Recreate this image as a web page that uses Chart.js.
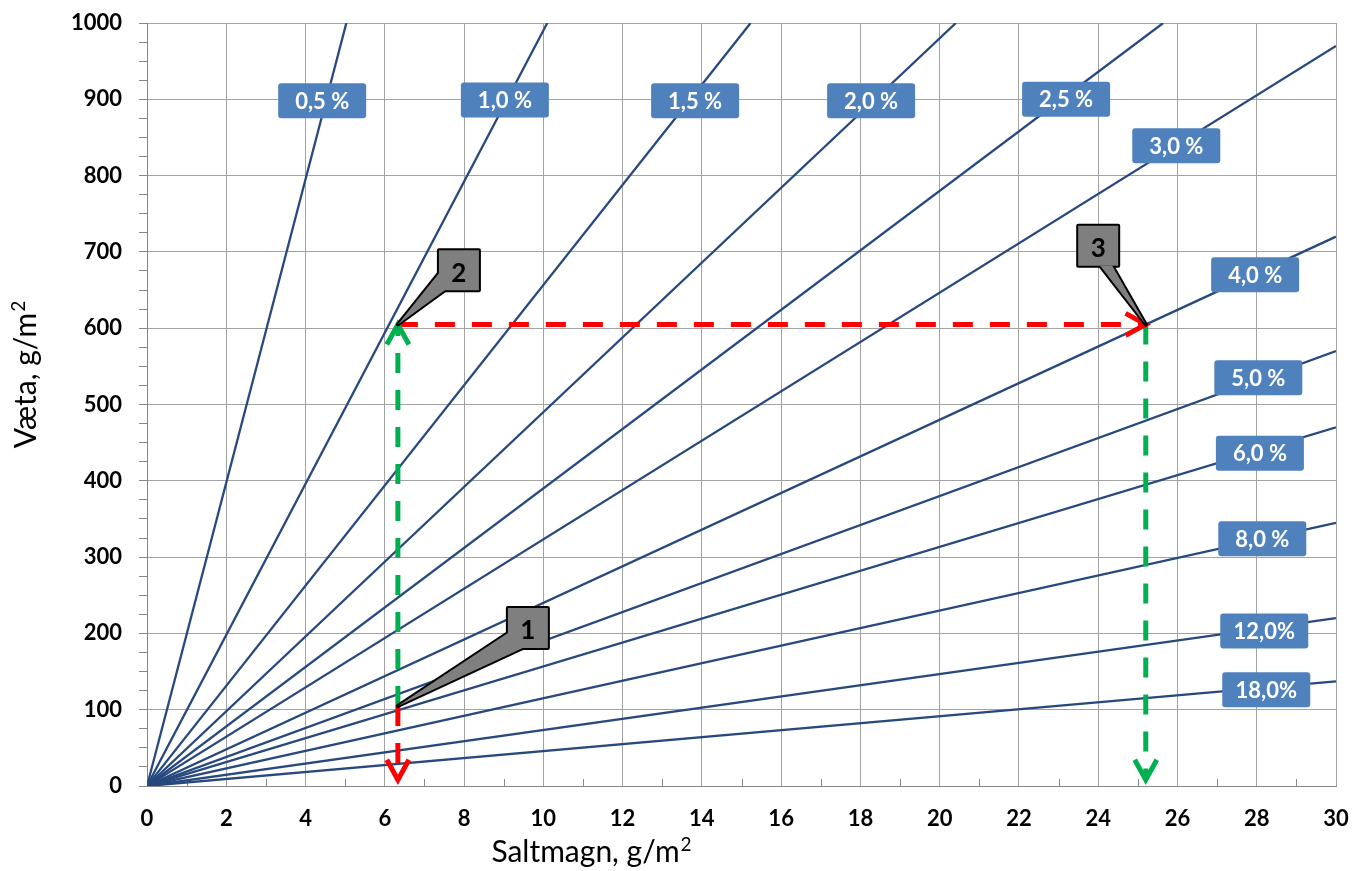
<!DOCTYPE html>
<html>
<head>
<meta charset="utf-8">
<script src="https://cdn.jsdelivr.net/npm/chart.js@4.4.0/dist/chart.umd.min.js"></script>
<style>
  html, body { margin: 0; padding: 0; background: #fff; }
  canvas { display: block; }
</style>
</head>
<body>
<canvas id="salt-chart" width="1353" height="871"></canvas>
<script>
// salt concentration lines, from origin to where they leave the plot
const concLabels = ['0,5 %', '1,0 %', '1,5 %', '2,0 %', '2,5 %', '3,0 %', '4,0 %', '5,0 %', '6,0 %', '8,0 %', '12,0%', '18,0%'];
const lineEndX = [5.03, 10.1, 15.23, 20.41, 25.64, 30, 30, 30, 30, 30, 30, 30];
const lineEndY = [1000, 1000, 1000, 1000, 1000, 970, 720, 570, 470, 345, 220, 137];

// where the label boxes sit (data units)
const labelX = [4.42, 9.03, 13.83, 18.27, 23.19, 25.97, 27.96, 28.04, 28.08, 28.14, 28.19, 28.24];
const labelY = [898, 899, 898, 898, 900, 839, 670, 535, 436, 324, 203, 126];

// worked example: points 1, 2, 3
const stepNames = ['1', '2', '3'];
const stepX = [6.33, 6.33, 25.2];
const stepY = [105, 605, 605];
const calloutX = [9.61, 7.87, 24.0];
const calloutY = [207, 676, 708];
const arrowTipY = 8;

const xTicks = { min: 0, max: 30, step: 1 };
const yTicks = { min: 0, max: 1000, step: 25 };

const FONT = 'Lato, "Open Sans", sans-serif';
const LINE_COLOR = '#27497d';
const GRID_COLOR = '#a3a3a3';
const AXIS_COLOR = '#868686';

const datasets = [];

// arrows (drawn on top)
const arrows = [
  { color: '#ff0000', from: [stepX[0], stepY[0]], to: [stepX[0], arrowTipY] },
  { color: '#00b050', from: [stepX[0], stepY[0]], to: [stepX[1], stepY[1]] },
  { color: '#ff0000', from: [stepX[1], stepY[1]], to: [stepX[2], stepY[2]] },
  { color: '#00b050', from: [stepX[2], stepY[2]], to: [stepX[2], arrowTipY] }
];
arrows.forEach(a => {
  datasets.push({
    data: [{ x: a.from[0], y: a.from[1] }, { x: a.to[0], y: a.to[1] }],
    showLine: true,
    borderColor: a.color,
    borderWidth: 5,
    borderDash: [20, 17],
    borderCapStyle: 'butt',
    pointRadius: 0,
    isArrow: true,
    order: 0
  });
});

concLabels.forEach((lab, i) => {
  datasets.push({
    label: lab,
    data: [{ x: 0, y: 0 }, { x: lineEndX[i], y: lineEndY[i] }],
    showLine: true,
    borderColor: LINE_COLOR,
    borderWidth: 2.3,
    pointRadius: 0,
    order: 1
  });
});

const decorPlugin = {
  id: 'decor',
  beforeDatasetsDraw(chart) {
    const { ctx, scales: { x, y } } = chart;
    // small inside ticks on the x axis at odd values
    ctx.save();
    ctx.strokeStyle = AXIS_COLOR;
    ctx.lineWidth = 1;
    for (let v = 1; v < 30; v += 2) {
      const px = Math.round(x.getPixelForValue(v)) + 0.5;
      ctx.beginPath();
      ctx.moveTo(px, y.bottom);
      ctx.lineTo(px, y.bottom - 7);
      ctx.stroke();
    }
    ctx.restore();
  },
  afterDatasetsDraw(chart) {
    const { ctx, scales: { x, y } } = chart;
    ctx.save();

    // arrow heads
    chart.data.datasets.forEach(ds => {
      if (!ds.isArrow) return;
      const p0 = ds.data[0], p1 = ds.data[1];
      const x0 = x.getPixelForValue(p0.x), y0 = y.getPixelForValue(p0.y);
      const x1 = x.getPixelForValue(p1.x), y1 = y.getPixelForValue(p1.y);
      const ang = Math.atan2(y1 - y0, x1 - x0);
      const arm = 23, spread = 0.5;
      ctx.strokeStyle = ds.borderColor;
      ctx.lineWidth = 5;
      ctx.lineCap = 'butt';
      ctx.lineJoin = 'miter';
      ctx.setLineDash([]);
      ctx.beginPath();
      ctx.moveTo(x1 - arm * Math.cos(ang - spread), y1 - arm * Math.sin(ang - spread));
      ctx.lineTo(x1, y1);
      ctx.lineTo(x1 - arm * Math.cos(ang + spread), y1 - arm * Math.sin(ang + spread));
      ctx.stroke();
    });

    // blue label boxes
    ctx.font = 'bold 22px ' + FONT;
    ctx.textAlign = 'center';
    ctx.textBaseline = 'middle';
    concLabels.forEach((lab, i) => {
      const cx = x.getPixelForValue(labelX[i]);
      const cy = y.getPixelForValue(labelY[i]);
      const w = 88, h = 35;
      ctx.fillStyle = '#4f81bd';
      ctx.beginPath();
      ctx.roundRect(cx - w / 2, cy - h / 2, w, h, 3);
      ctx.fill();
      ctx.fillStyle = '#ffffff';
      ctx.fillText(lab, cx, cy + 1);
    });

    // grey callouts with pointer wedges
    const wedges = [
      [[-20, 5], [-5, 20]],
      [[-20, 3], [-14, 20]],
      [[2, 20], [14, 20]]
    ];
    stepNames.forEach((name, i) => {
      const cx = x.getPixelForValue(calloutX[i]);
      const cy = y.getPixelForValue(calloutY[i]);
      const tx = x.getPixelForValue(stepX[i]);
      const ty = y.getPixelForValue(stepY[i]);
      const w = wedges[i];
      const tri = () => {
        ctx.beginPath();
        ctx.moveTo(cx + w[0][0], cy + w[0][1]);
        ctx.lineTo(tx, ty);
        ctx.lineTo(cx + w[1][0], cy + w[1][1]);
        ctx.closePath();
      };
      const box = () => {
        ctx.beginPath();
        ctx.rect(cx - 20, cy - 20, 40, 40);
      };
      ctx.strokeStyle = '#000';
      ctx.lineWidth = 4;
      ctx.lineJoin = 'round';
      tri(); ctx.stroke();
      box(); ctx.stroke();
      ctx.fillStyle = '#7f7f7f';
      tri(); ctx.fill();
      box(); ctx.fill();
      ctx.fillStyle = '#000';
      ctx.font = 'bold 26px ' + FONT;
      ctx.fillText(name, cx, cy + 3);
    });
    ctx.restore();
  },
  afterDraw(chart) {
    const { ctx } = chart;
    ctx.save();
    ctx.fillStyle = '#000';
    ctx.textBaseline = 'alphabetic';
    ctx.textAlign = 'left';
    // x axis title
    const xMain = 30, xSup = 19;
    const xt = 'Saltmagn, g/m';
    ctx.font = xMain + 'px ' + FONT;
    const wMain = ctx.measureText(xt).width;
    ctx.font = xSup + 'px ' + FONT;
    const wSup = ctx.measureText('2').width;
    let sx = 591 - (wMain + wSup) / 2;
    ctx.font = xMain + 'px ' + FONT;
    ctx.fillText(xt, sx, 862);
    ctx.font = xSup + 'px ' + FONT;
    ctx.fillText('2', sx + wMain + 1, 851);
    // y axis title
    const yMain = 30, ySup = 19;
    ctx.translate(36, 375);
    ctx.rotate(-Math.PI / 2);
    const yt = 'Væta, g/m';
    ctx.font = yMain + 'px ' + FONT;
    const wy = ctx.measureText(yt).width;
    ctx.font = ySup + 'px ' + FONT;
    const wys = ctx.measureText('2').width;
    sx = -(wy + wys) / 2;
    ctx.font = yMain + 'px ' + FONT;
    ctx.fillText(yt, sx, 0);
    ctx.font = ySup + 'px ' + FONT;
    ctx.fillText('2', sx + wy + 1, -11);
    ctx.restore();
  }
};

new Chart(document.getElementById('salt-chart'), {
  type: 'scatter',
  data: { datasets },
  options: {
    responsive: false,
    animation: false,
    devicePixelRatio: 1,
    layout: { padding: { top: 23, right: 17, left: 0, bottom: 0 } },
    plugins: { legend: { display: false }, tooltip: { enabled: false } },
    scales: {
      x: {
        type: 'linear',
        min: xTicks.min,
        max: xTicks.max,
        afterFit(scale) {
          scale.height = 85;
          scale.paddingLeft = 0;
          scale.paddingRight = 0;
        },
        ticks: {
          stepSize: xTicks.step,
          autoSkip: false,
          maxRotation: 0,
          padding: 20,
          color: '#000',
          font: { family: FONT, size: 22, weight: 'bold' },
          callback: v => (v % 2 === 0 ? v : '')
        },
        grid: {
          color: c => (c.tick && c.tick.value % 2 === 0 ? GRID_COLOR : 'transparent'),
          lineWidth: 1,
          drawTicks: false
        },
        border: { color: AXIS_COLOR, width: 1 }
      },
      y: {
        type: 'linear',
        min: yTicks.min,
        max: yTicks.max,
        afterFit(scale) {
          scale.width = 147;
          scale.paddingTop = 0;
          scale.paddingBottom = 0;
        },
        ticks: {
          stepSize: yTicks.step,
          maxTicksLimit: 100,
          autoSkip: false,
          padding: 17,
          color: '#000',
          font: { family: FONT, size: 22, weight: 'bold' },
          callback: v => (v % 100 === 0 ? v : '')
        },
        grid: {
          color: c => (c.tick && c.tick.value % 100 === 0 ? GRID_COLOR : 'transparent'),
          tickColor: AXIS_COLOR,
          tickLength: 8,
          lineWidth: 1
        },
        border: { color: AXIS_COLOR, width: 1 }
      }
    }
  },
  plugins: [decorPlugin]
});
</script>
</body>
</html>
